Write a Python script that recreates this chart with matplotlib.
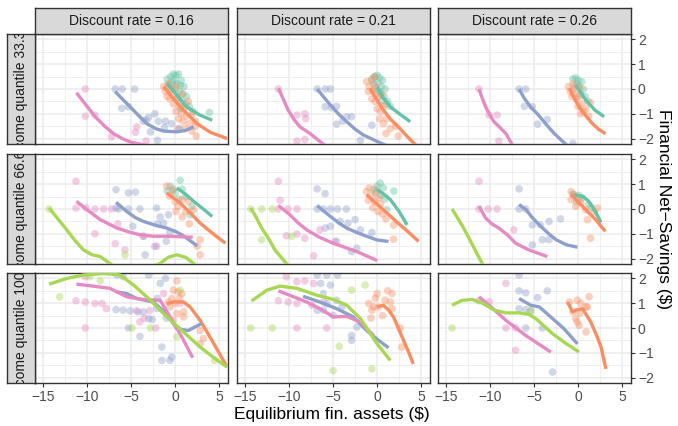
import matplotlib
matplotlib.use("Agg")
import matplotlib.pyplot as plt

plt.rcParams["font.family"] = ["Liberation Sans", "DejaVu Sans"]

# ---------------- data ----------------
discount_rates = ["0.16", "0.21", "0.26"]
income_quantiles = ["33.3", "66.6", "100"]
group_names = ["teal", "orange", "blue", "pink", "green"]
group_colors = {"teal": "#66C2A5", "orange": "#FC8D62", "blue": "#8DA0CB",
                "pink": "#E78AC3", "green": "#A6D854"}
x_ticks = [-15, -10, -5, 0, 5]
y_ticks = [-2, -1, 0, 1, 2]

# scatter points per panel: (group, x, y)   row = income quantile, col = discount rate
pts_q33_d16 = (
    [("teal", x, y) for x, y in [(-0.9, 0.4), (-0.5, 0.5), (-0.2, 0.6), (0.1, 0.55), (0.4, 0.6), (-0.7, 0.2),
                                  (-0.3, 0.25), (0.2, 0.2), (0.6, 0.15), (1.0, 0.1), (-0.4, 0.0), (0.0, -0.05),
                                  (0.5, -0.1), (0.9, -0.2), (1.3, -0.3), (0.3, -0.35), (0.8, -0.5), (1.2, -0.6),
                                  (1.6, -0.7), (0.6, -0.8), (2.0, -0.9), (-0.1, 0.35), (0.7, 0.35), (3.9, -0.95)]]
    + [("orange", x, y) for x, y in [(-1.3, 0.1), (-1.1, -0.1), (-0.8, 0.2), (-0.5, 0.0), (-0.2, -0.2), (0.1, 0.1),
                                      (-0.6, -0.4), (-0.2, -0.6), (0.2, -0.4), (0.5, -0.7), (0.1, -0.9), (0.7, -1.0),
                                      (1.0, -0.8), (0.4, -1.2), (0.9, -1.3), (1.3, -1.1), (1.6, -1.4), (1.1, -1.6),
                                      (1.9, -1.7), (2.3, -1.3), (2.4, -1.9), (2.3, -1.5), (1.5, -0.5), (-0.9, -0.3),
                                      (0.3, -1.6), (2.0, -1.0), (0.8, -0.2)]]
    + [("blue", x, y) for x, y in [(-6.8, 0.0), (-6.0, 0.0), (-4.6, 0.0), (-6.05, -0.78), (-5.3, -0.72), (-3.6, -1.3),
                                    (-3.0, -1.15), (-2.3, -1.0), (-1.1, -1.3), (-1.9, -1.3), (-2.8, -1.73),
                                    (-2.0, -2.07), (-0.4, -1.4), (-1.2, -1.55), (0.5, -1.6), (-3.3, -1.25)]]
    + [("pink", x, y) for x, y in [(-10.2, 0.0), (-10.2, -1.1), (-9.1, -1.05), (-7.2, -1.93), (-4.35, -1.53),
                                    (-4.5, -1.75), (-3.3, -2.1)]]
)
pts_q33_d21 = (
    [("teal", x, y) for x, y in [(-0.6, 0.4), (-0.3, 0.5), (0.0, 0.55), (0.3, 0.45), (0.6, 0.35), (-0.4, 0.2),
                                  (0.1, 0.25), (0.5, 0.1), (0.9, 0.0), (-0.1, 0.0), (0.4, -0.2), (0.8, -0.3),
                                  (1.2, -0.5), (1.5, -0.7), (1.0, -0.6), (0.2, -0.1), (0.6, -0.45)]]
    + [("orange", x, y) for x, y in [(-1.2, 0.3), (-0.9, 0.1), (-0.6, 0.35), (-1.0, -0.1), (-0.5, -0.1), (-0.2, 0.1),
                                      (-0.6, -0.4), (-0.2, -0.5), (0.2, -0.3), (0.0, -0.8), (0.4, -0.9), (0.8, -0.7),
                                      (0.3, -1.2), (0.7, -1.4), (1.1, -1.2), (1.5, -1.6), (1.0, -1.8), (2.1, -1.5),
                                      (2.4, -1.9), (-0.3, 0.5), (0.5, -0.2)]]
    + [("blue", x, y) for x, y in [(-6.8, 0.0), (-5.9, 0.0), (-5.3, 0.0), (-5.9, -0.72), (-4.6, -0.7), (-5.2, -0.75),
                                    (-3.45, -1.12), (-2.9, -1.12), (-4.6, -1.42), (-0.6, -1.46), (-1.9, -2.07),
                                    (-3.9, -1.3)]]
    + [("pink", x, y) for x, y in [(-11.2, 0.0), (-8.2, -1.0), (-9.1, -1.05), (-8.1, -1.2), (-8.2, -2.04),
                                    (-9.1, -2.1)]]
)
pts_q33_d26 = (
    [("teal", x, y) for x, y in [(-0.6, 0.4), (-0.3, 0.45), (0.0, 0.35), (0.4, 0.3), (-0.4, 0.1), (0.1, 0.1),
                                  (0.6, 0.0), (0.3, -0.2), (0.8, -0.3), (1.1, -0.5), (-0.1, 0.2)]]
    + [("orange", x, y) for x, y in [(-1.1, 0.1), (-0.9, -0.1), (-0.6, 0.2), (-0.7, -0.3), (-0.3, 0.0), (-0.2, -0.4),
                                      (0.1, -0.3), (0.0, -0.7), (0.4, -0.6), (0.6, -0.9), (0.9, -0.8), (1.4, -0.55),
                                      (0.3, -1.0), (1.2, -1.1), (-0.5, -0.2), (0.2, 0.05)]]
    + [("blue", x, y) for x, y in [(-6.7, 0.0), (-5.95, 0.0), (-6.1, -0.7), (-5.2, -0.72), (-3.5, -1.23),
                                    (-4.6, -1.42), (-0.6, -2.2)]]
    + [("pink", x, y) for x, y in [(-11.25, 0.0), (-10.1, -1.05), (-9.2, -1.05), (-9.0, -2.1)]]
)
pts_q66_d16 = (
    [("teal", x, y) for x, y in [(0.57, 1.16), (-0.57, 0.92), (-0.2, 0.8), (0.8, 0.8), (0.0, 0.65), (-0.9, 0.72),
                                  (1.9, 0.1), (1.7, -0.23), (0.4, 0.4), (1.2, 0.5)]]
    + [("orange", x, y) for x, y in [(-0.95, 0.92), (-0.6, 0.52), (0.0, 0.3), (0.8, 0.38), (1.5, 0.3), (0.8, -0.32),
                                      (2.1, -0.03), (2.84, -1.24), (2.84, -1.85), (2.5, -1.5), (-0.3, 0.75),
                                      (0.3, 0.1), (1.2, -0.1), (0.1, -0.1), (1.6, -0.6)]]
    + [("blue", x, y) for x, y in [(-6.7, 0.78), (-5.3, 0.65), (-4.5, 0.68), (-6.7, 0.04), (-5.3, 0.0), (-4.0, 0.0),
                                    (-6.4, 0.0), (-2.1, 0.04), (-1.7, -0.32), (-0.75, -0.23), (-1.3, -0.57),
                                    (-3.6, -1.1), (-2.3, -1.51), (-3.4, -1.85), (-0.6, -0.95), (-4.8, -0.7),
                                    (-1.0, -1.3), (-2.0, -0.6)]]
    + [("pink", x, y) for x, y in [(-11.25, 1.12), (-11.25, 0.04), (-10.1, 0.04), (-9.1, 0.0), (-8.1, 0.0),
                                    (-7.2, 0.0), (-9.1, -1.0), (-6.8, -1.4), (-5.7, -1.65), (-3.6, -1.1),
                                    (-2.1, -1.5), (-6.5, -0.6)]]
    + [("green", x, y) for x, y in [(-5.7, -1.85), (-14.3, 0.0)]]
)
pts_q66_d21 = (
    [("teal", x, y) for x, y in [(0.0, 0.92), (0.35, 1.05), (0.7, 0.85), (1.9, 0.72), (1.1, -0.03), (-0.2, 0.65),
                                  (0.4, 0.55), (0.9, 0.4), (-0.4, 0.8)]]
    + [("orange", x, y) for x, y in [(-1.2, 0.7), (-0.9, 0.85), (-0.6, 0.55), (-1.0, 0.35), (-0.3, 0.3), (0.2, 0.45),
                                      (-0.5, 0.05), (0.1, -0.1), (0.6, -0.2), (1.0, -0.4), (1.86, -0.65),
                                      (1.86, -1.22), (0.4, 0.2), (-0.1, 0.75)]]
    + [("blue", x, y) for x, y in [(-6.8, 0.81), (-5.9, 0.62), (-6.8, 0.0), (-6.1, 0.0), (-5.3, 0.0), (-4.5, 0.0),
                                    (-3.5, 0.0), (-5.3, -0.7), (-5.9, -0.77), (-4.2, -0.5), (-3.3, -0.57),
                                    (-2.5, -0.43), (-1.9, -0.84), (-0.6, -0.95), (-2.9, -1.72), (-2.3, -1.58),
                                    (-4.6, -1.31)]]
    + [("pink", x, y) for x, y in [(-11.2, 1.12), (-11.0, 0.35), (-11.2, 0.0), (-10.1, 0.0), (-9.1, 0.0),
                                    (-10.3, -1.08), (-9.1, -1.01), (-8.2, -1.18), (-6.5, -0.84), (-7.2, -1.89),
                                    (-4.8, -1.31)]]
    + [("green", x, y) for x, y in [(-14.35, 0.0), (-13.1, 0.0), (-11.9, 0.0), (-13.1, -1.24), (-9.7, -1.1)]]
)
pts_q66_d26 = (
    [("teal", x, y) for x, y in [(-0.6, 0.6), (0.1, 0.55), (0.5, 0.45), (1.5, 0.05), (1.2, 0.2), (-0.2, 0.3)]]
    + [("orange", x, y) for x, y in [(-0.8, 0.7), (-0.45, 0.58), (0.1, 0.38), (-0.8, 0.38), (-0.27, 0.11),
                                      (0.85, -0.03), (1.05, -0.43), (2.2, 0.04), (1.85, -0.1), (1.4, -1.18),
                                      (0.3, 0.25)]]
    + [("blue", x, y) for x, y in [(-6.7, 0.81), (-6.7, 0.0), (-5.95, 0.0), (-5.2, -0.64), (-4.3, -0.64),
                                    (-3.3, -0.5), (-2.0, -0.4), (-4.05, -1.24), (-3.3, -1.24), (-5.2, -1.45)]]
    + [("pink", x, y) for x, y in [(-11.25, 1.12), (-11.25, 0.0), (-10.2, 0.0), (-9.2, 0.0), (-7.3, -0.84)]]
)
pts_q100_d16 = (
    [("orange", x, y) for x, y in [(0.2, 1.9), (-0.2, 1.53), (0.35, 1.46), (0.76, 1.39), (-0.76, 1.05), (-0.38, 1.19),
                                    (0.0, 0.99), (0.95, 0.65), (0.2, 0.58), (0.95, 0.45), (2.84, -0.1),
                                    (3.2, -0.43), (2.84, -0.64), (-0.2, 0.31), (-0.6, 0.85), (0.5, 1.2)]]
    + [("blue", x, y) for x, y in [(-6.7, 0.74), (-5.9, 0.72), (-5.1, 0.69), (-4.2, 0.65), (-3.6, 0.65), (-3.0, 0.38),
                                    (-2.6, 0.34), (-5.3, 0.0), (-4.0, -0.34), (-2.1, 0.79), (-1.5, -0.77),
                                    (-1.5, -1.31), (-0.6, -1.31), (-0.4, -1.17), (-1.7, 1.8), (-1.1, 2.0),
                                    (-6.6, 2.14), (-5.9, 2.07), (-3.0, 2.14), (-2.0, 1.2), (-1.0, 0.4)]]
    + [("pink", x, y) for x, y in [(-10.2, 2.07), (-11.25, 1.1), (-10.2, 1.05), (-9.1, 0.99), (-8.3, 0.99),
                                    (-7.8, 0.78), (-10.2, 0.0), (-4.4, 0.7), (-4.0, 0.25), (-2.9, 0.7),
                                    (-2.2, 0.0), (-1.3, 1.39), (0.57, 0.99), (-3.5, 0.4)]]
    + [("green", x, y) for x, y in [(-13.1, 1.26), (-9.7, 2.07), (-8.5, 1.9), (-4.9, 0.0), (-2.8, 0.0),
                                     (0.2, -0.36), (0.57, 1.53), (4.5, -1.31)]]
)
pts_q100_d21 = (
    [("orange", x, y) for x, y in [(0.0, 1.39), (-0.95, 0.99), (-0.4, 0.85), (0.15, 0.85), (0.9, 1.12), (1.7, 1.39),
                                    (1.5, 1.05), (-0.6, 0.72), (2.6, 0.0), (2.8, -0.77), (1.7, 0.78),
                                    (-0.2, 1.2), (0.6, 0.5), (1.2, 1.5), (-0.7, 0.4)]]
    + [("blue", x, y) for x, y in [(-6.8, 2.14), (-5.7, 2.14), (-4.5, 2.14), (-6.4, 1.8), (-5.3, 1.73), (-6.1, 1.39),
                                    (-4.6, 1.12), (-6.1, 0.72), (-5.0, 0.51), (-4.0, 0.85), (-2.3, 0.04),
                                    (-2.9, -0.3), (-2.9, -0.5), (-5.7, 0.99), (-6.8, 0.72)]]
    + [("pink", x, y) for x, y in [(-10.3, 2.07), (-9.1, 1.87), (-8.2, 1.9), (-7.2, 1.8), (-11.2, 1.1), (-10.1, 1.05),
                                    (-9.1, 0.99), (-7.4, 0.92), (-9.1, 0.0), (-5.7, 0.0), (-6.1, 1.05)]]
    + [("green", x, y) for x, y in [(-14.35, 0.0), (-11.9, 0.0), (-4.3, -0.74), (-5.0, -1.72), (-0.6, -1.65),
                                     (-1.36, 1.73), (-2.9, 1.53)]]
)
pts_q100_d26 = (
    [("orange", x, y) for x, y in [(-1.0, 1.05), (-0.1, 1.12), (0.3, 0.99), (0.9, 0.85), (1.25, 1.26), (-0.6, 0.65),
                                    (-0.27, 0.38), (-0.1, 0.24), (0.1, 0.11), (0.9, -0.16), (1.05, 0.85),
                                    (0.2, 0.6)]]
    + [("blue", x, y) for x, y in [(-6.7, 2.14), (-6.7, 1.5), (-5.95, 1.42), (-4.6, 1.23), (-3.5, 1.5), (-6.7, 0.78),
                                    (-5.95, 0.74), (-5.4, 0.69), (-5.95, 0.0), (-4.05, 0.0), (-2.9, -1.78)]]
    + [("pink", x, y) for x, y in [(-8.2, 1.8), (-11.25, 1.1), (-10.1, 1.05), (-8.2, 0.0), (-7.1, 0.0), (-7.1, -0.9)]]
    + [("green", x, y) for x, y in [(-14.3, 0.0), (-5.4, 0.7)]]
)

# smoothed curves per panel
lines_q33_d16 = {
    "pink": [(-11.2, -0.15), (-10, -0.7), (-9, -1.15), (-8, -1.5), (-7, -1.8), (-6, -2.0), (-5, -2.15), (-4, -2.22), (-3, -2.3)],
    "blue": [(-6.8, -0.1), (-6, -0.4), (-5.1, -0.72), (-4.2, -1.05), (-3.2, -1.4), (-2.2, -1.6), (-1.3, -1.7), (0.2, -1.73), (1.2, -1.67), (2.1, -1.53)],
    "teal": [(-0.9, 0.23), (0.2, -0.25), (1.3, -0.72), (2.8, -1.05), (4.2, -1.26)],
    "orange": [(-1.3, 0.1), (-0.3, -0.35), (0.6, -0.72), (1.5, -1.05), (2.5, -1.4), (4.0, -1.75), (5.9, -2.0)],
}
lines_q33_d21 = {
    "pink": [(-11.2, 0.03), (-10.6, -0.45), (-10.1, -0.85), (-9.4, -1.25), (-8.75, -1.53), (-7.6, -1.8), (-6.1, -2.23), (-5.5, -2.4)],
    "blue": [(-6.8, 0.0), (-6.0, -0.35), (-5.3, -0.65), (-4.4, -1.0), (-3.45, -1.32), (-2.5, -1.62), (-1.55, -1.86), (0.7, -2.23), (1.2, -2.3)],
    "teal": [(0.0, 0.07), (0.7, -0.35), (1.5, -0.72), (2.6, -1.02), (3.75, -1.32)],
    "orange": [(-0.8, 0.03), (0.0, -0.45), (0.7, -0.85), (1.6, -1.25), (2.6, -1.6), (3.5, -1.95), (4.3, -2.23), (4.6, -2.4)],
}
lines_q33_d26 = {
    "pink": [(-11.25, 0.0), (-10.9, -0.35), (-10.5, -0.72), (-10.0, -1.05), (-9.55, -1.32), (-8.8, -1.58), (-8.2, -1.8), (-7.5, -2.23), (-7.2, -2.4)],
    "blue": [(-6.7, 0.0), (-6.1, -0.38), (-5.4, -0.72), (-4.5, -1.05), (-3.7, -1.4), (-2.7, -1.8), (-1.4, -2.23), (-1.0, -2.35)],
    "teal": [(-0.25, 0.16), (0.3, -0.15), (0.87, -0.45), (1.9, -0.85), (2.95, -1.12)],
    "orange": [(-1.0, 0.03), (-0.45, -0.35), (0.1, -0.72), (0.8, -1.05), (1.6, -1.39), (2.3, -1.62), (3.1, -1.8)],
}
lines_q66_d16 = {
    "green": [(-14.3, 0.04), (-13.3, -0.4), (-12.3, -0.84), (-11.3, -1.3), (-10.4, -1.65), (-9.4, -1.85), (-8.5, -1.92),
              (-7.4, -2.2), (-6, -2.5), (-4, -2.6), (-2.5, -2.3), (-1.7, -2.2), (-0.8, -1.95), (0.2, -1.85), (1.2, -1.95), (2.1, -2.2), (3, -2.5)],
    "pink": [(-11.2, 0.31), (-10, -0.03), (-8.5, -0.43), (-6.6, -0.77), (-5.2, -0.93), (-4, -1.04), (-2.5, -1.1), (-0.9, -1.1), (0.6, -1.12), (2.0, -1.14)],
    "blue": [(-6.7, 0.27), (-5.5, -0.1), (-4.5, -0.35), (-3.6, -0.5), (-2.3, -0.65), (-0.95, -0.77), (0.0, -0.9), (0.76, -1.04), (1.6, -1.25), (2.5, -1.49)],
    "teal": [(0.2, 0.85), (1.1, 0.62), (2.1, 0.31), (3.2, 0.0), (4.2, -0.3)],
    "orange": [(-0.95, 0.65), (0.57, 0.24), (1.7, -0.15), (2.84, -0.57), (4.3, -1.0), (5.7, -1.38)],
}
lines_q66_d21 = {
    "green": [(-14.35, 0.04), (-13.7, -0.35), (-13.1, -0.77), (-12.3, -1.2), (-11.6, -1.65), (-10.3, -2.2), (-10.0, -2.35)],
    "pink": [(-11.2, 0.14), (-9.9, -0.23), (-9.0, -0.55), (-8.0, -0.84), (-6.5, -1.15), (-5.0, -1.38), (-3.5, -1.57), (-2.3, -1.72), (0.0, -2.08)],
    "blue": [(-6.8, 0.14), (-6.0, -0.1), (-5.3, -0.3), (-4.4, -0.55), (-3.45, -0.77), (-2.3, -0.95), (-1.2, -1.1), (0.0, -1.25), (1.3, -1.31)],
    "teal": [(0.0, 0.78), (0.7, 0.62), (1.5, 0.38), (2.5, -0.1), (3.4, -0.64)],
    "orange": [(-1.2, 0.58), (-0.2, 0.25), (0.7, -0.03), (1.6, -0.32), (2.6, -0.64), (3.7, -0.98), (4.7, -1.31)],
}
lines_q66_d26 = {
    "green": [(-14.3, 0.0), (-13.7, -0.35), (-13.1, -0.7), (-12.5, -1.1), (-11.9, -1.51), (-10.9, -2.19), (-10.7, -2.3)],
    "pink": [(-11.25, 0.11), (-10.5, -0.36), (-9.8, -0.6), (-9.0, -0.77), (-8.0, -1.05), (-7.1, -1.38), (-5.6, -1.65), (-3.5, -1.92)],
    "blue": [(-6.7, 0.18), (-5.9, -0.03), (-5.2, -0.35), (-4.4, -0.64), (-3.4, -0.98), (-2.5, -1.24), (-1.3, -1.45), (-0.08, -1.54)],
    "teal": [(-0.45, 0.58), (0.5, 0.51), (1.1, 0.35), (1.6, 0.11), (2.1, -0.2), (2.6, -0.54)],
    "orange": [(-0.8, 0.58), (-0.2, 0.35), (0.5, 0.11), (1.2, -0.15), (2.0, -0.43), (2.6, -0.7), (3.1, -0.9)],
}
lines_q100_d16 = {
    "green": [(-14.3, 1.77), (-12.3, 2.0), (-10.4, 2.14), (-8.1, 2.2), (-6.25, 2.14), (-4.7, 1.73), (-2.8, 1.12),
              (-0.95, 0.45), (0.95, -0.16), (2.84, -0.77), (4.4, -1.2), (5.9, -1.58)],
    "pink": [(-11.2, 1.77), (-9.3, 1.69), (-7.4, 1.6), (-5.5, 1.26), (-3.6, 1.15), (-1.7, 1.12), (-0.57, 0.45), (0.76, -0.36), (2.0, -1.2)],
    "blue": [(-6.7, 1.46), (-5.5, 1.39), (-4.35, 1.19), (-2.5, 1.05), (-0.95, 0.58), (0.2, -0.03), (1.5, -0.1), (3.0, 0.18)],
    "orange": [(-0.95, 0.99), (-0.2, 1.05), (0.95, 1.05), (1.7, 0.85), (2.84, 0.31), (3.6, -0.15), (4.4, -0.64), (5.9, -1.58)],
}
lines_q100_d21 = {
    "green": [(-14.25, 1.09), (-12.5, 1.53), (-11.0, 1.69), (-9.1, 1.6), (-6.8, 1.32), (-4.95, 1.15), (-3.45, 0.92),
              (-1.9, 0.38), (0.0, -0.64), (1.5, -1.31)],
    "pink": [(-11.2, 1.5), (-9.9, 1.32), (-8.0, 1.05), (-6.5, 0.78), (-4.95, 0.45), (-3.45, 0.47), (-1.9, 0.24), (-0.4, -0.3)],
    "blue": [(-8.4, 1.28), (-6.5, 1.05), (-4.6, 0.78), (-2.7, 0.45), (-1.2, -0.1), (0.0, -0.45), (1.3, -0.8)],
    "orange": [(0.0, 0.85), (0.7, 0.92), (1.3, 0.72), (1.85, 0.45), (2.4, 0.0), (3.0, -0.5), (3.6, -1.0), (4.1, -1.45)],
}
lines_q100_d26 = {
    "green": [(-14.3, 0.92), (-13.15, 1.12), (-12.0, 1.15), (-10.9, 1.01), (-9.5, 0.72), (-8.2, 0.61), (-6.7, 0.61),
              (-5.6, 0.55), (-4.8, 0.38), (-2.9, -0.23), (-1.4, -0.62), (0.1, -0.97)],
    "pink": [(-11.25, 1.26), (-10.1, 0.92), (-8.2, 0.31), (-5.95, -0.3), (-3.1, -0.97)],
    "blue": [(-6.7, 1.19), (-5.4, 0.92), (-4.4, 0.85), (-2.9, 0.38), (-1.6, -0.03), (-0.08, -0.64)],
    "orange": [(-1.2, 1.05), (-0.64, 0.65), (-0.27, 0.72), (0.5, 0.78), (1.44, 0.24), (2.1, -0.3), (2.6, -0.77), (3.15, -1.65)],
}

panel_points = [[pts_q33_d16, pts_q33_d21, pts_q33_d26],
                [pts_q66_d16, pts_q66_d21, pts_q66_d26],
                [pts_q100_d16, pts_q100_d21, pts_q100_d26]]
panel_lines = [[lines_q33_d16, lines_q33_d21, lines_q33_d26],
               [lines_q66_d16, lines_q66_d21, lines_q66_d26],
               [lines_q100_d16, lines_q100_d21, lines_q100_d26]]

# ---------------- layout ----------------
W, H = 678, 426
fig = plt.figure(figsize=(W / 100, H / 100), dpi=100)
fig.patch.set_facecolor("white")

col_left = [35, 237, 438]
row_top = [34, 154, 273]
pw, ph = 193, 110
strip_top = 8
strip_left = 7

def px_rect(x0, y0, w, h):
    return [x0 / W, 1 - (y0 + h) / H, w / W, h / H]

dark = "#333333"
grid_c = "#EBEBEB"
strip_c = "#D9D9D9"

for r in range(3):
    for c in range(3):
        ax = fig.add_axes(px_rect(col_left[c], row_top[r], pw, ph))
        ax.set_xlim(-15.9, 6.0)
        ax.set_ylim(-2.22, 2.22)
        ax.set_facecolor("white")
        for x in [-15, -10, -5, 0, 5]:
            ax.axvline(x, color=grid_c, lw=1.1, zorder=0)
        for x in [-12.5, -7.5, -2.5, 2.5]:
            ax.axvline(x, color=grid_c, lw=0.55, zorder=0)
        for y in [-2, -1, 0, 1, 2]:
            ax.axhline(y, color=grid_c, lw=1.1, zorder=0)
        for y in [-1.5, -0.5, 0.5, 1.5]:
            ax.axhline(y, color=grid_c, lw=0.55, zorder=0)

        pts = panel_points[r][c]
        for g in group_names:
            gx = [p[1] for p in pts if p[0] == g]
            gy = [p[2] for p in pts if p[0] == g]
            if gx:
                ax.scatter(gx, gy, s=30, color=group_colors[g], alpha=0.42,
                           edgecolors="none", zorder=2)
        lines = panel_lines[r][c]
        for g in group_names:
            if g in lines:
                lx = [p[0] for p in lines[g]]
                ly = [p[1] for p in lines[g]]
                ax.plot(lx, ly, color=group_colors[g], lw=2.4, zorder=3,
                        solid_capstyle="butt")

        for s in ax.spines.values():
            s.set_color(dark)
            s.set_linewidth(1.0)
        ax.set_xticks(x_ticks)
        ax.set_yticks(y_ticks)
        ax.tick_params(colors=dark, length=3, width=0.8, labelsize=10,
                       labelcolor="#4D4D4D")
        ax.yaxis.tick_right()
        if r < 2:
            ax.tick_params(axis="x", bottom=False, labelbottom=False)
        if c < 2:
            ax.tick_params(axis="y", right=False, labelright=False, left=False, labelleft=False)
        else:
            ax.tick_params(axis="y", left=False, labelleft=False, pad=2)
        ax.tick_params(axis="x", pad=2)

# top strips
for c in range(3):
    sax = fig.add_axes(px_rect(col_left[c], strip_top, pw, row_top[0] - strip_top))
    sax.set_xlim(0, 1); sax.set_ylim(0, 1)
    sax.set_xticks([]); sax.set_yticks([])
    sax.set_facecolor(strip_c)
    for s in sax.spines.values():
        s.set_color(dark); s.set_linewidth(1.0)
    sax.text(0.5, 0.5, f"Discount rate = {discount_rates[c]}", ha="center", va="center",
             fontsize=10, color="#1A1A1A")

# left strips (text clipped to strip box)
for r in range(3):
    sax = fig.add_axes(px_rect(strip_left, row_top[r], col_left[0] - strip_left, ph))
    sax.set_xlim(0, 1); sax.set_ylim(0, 1)
    sax.set_xticks([]); sax.set_yticks([])
    sax.set_facecolor(strip_c)
    for s in sax.spines.values():
        s.set_color(dark); s.set_linewidth(1.0)
    t = sax.text(0.5, 0.44, f"Income quantile {income_quantiles[r]}", ha="center", va="center",
                 rotation=90, fontsize=10, color="#1A1A1A", clip_on=True)
    t.set_clip_path(sax.patch)

fig.text(332 / W, 1 - 415 / H, "Equilibrium fin. assets ($)", ha="center", va="center",
         fontsize=12.5, color="black")
fig.text(663 / W, 1 - 209 / H, "Financial Net\u2212Savings ($)", ha="center", va="center",
         rotation=-90, fontsize=12.5, color="black")

fig.savefig("out.png", dpi=100)
